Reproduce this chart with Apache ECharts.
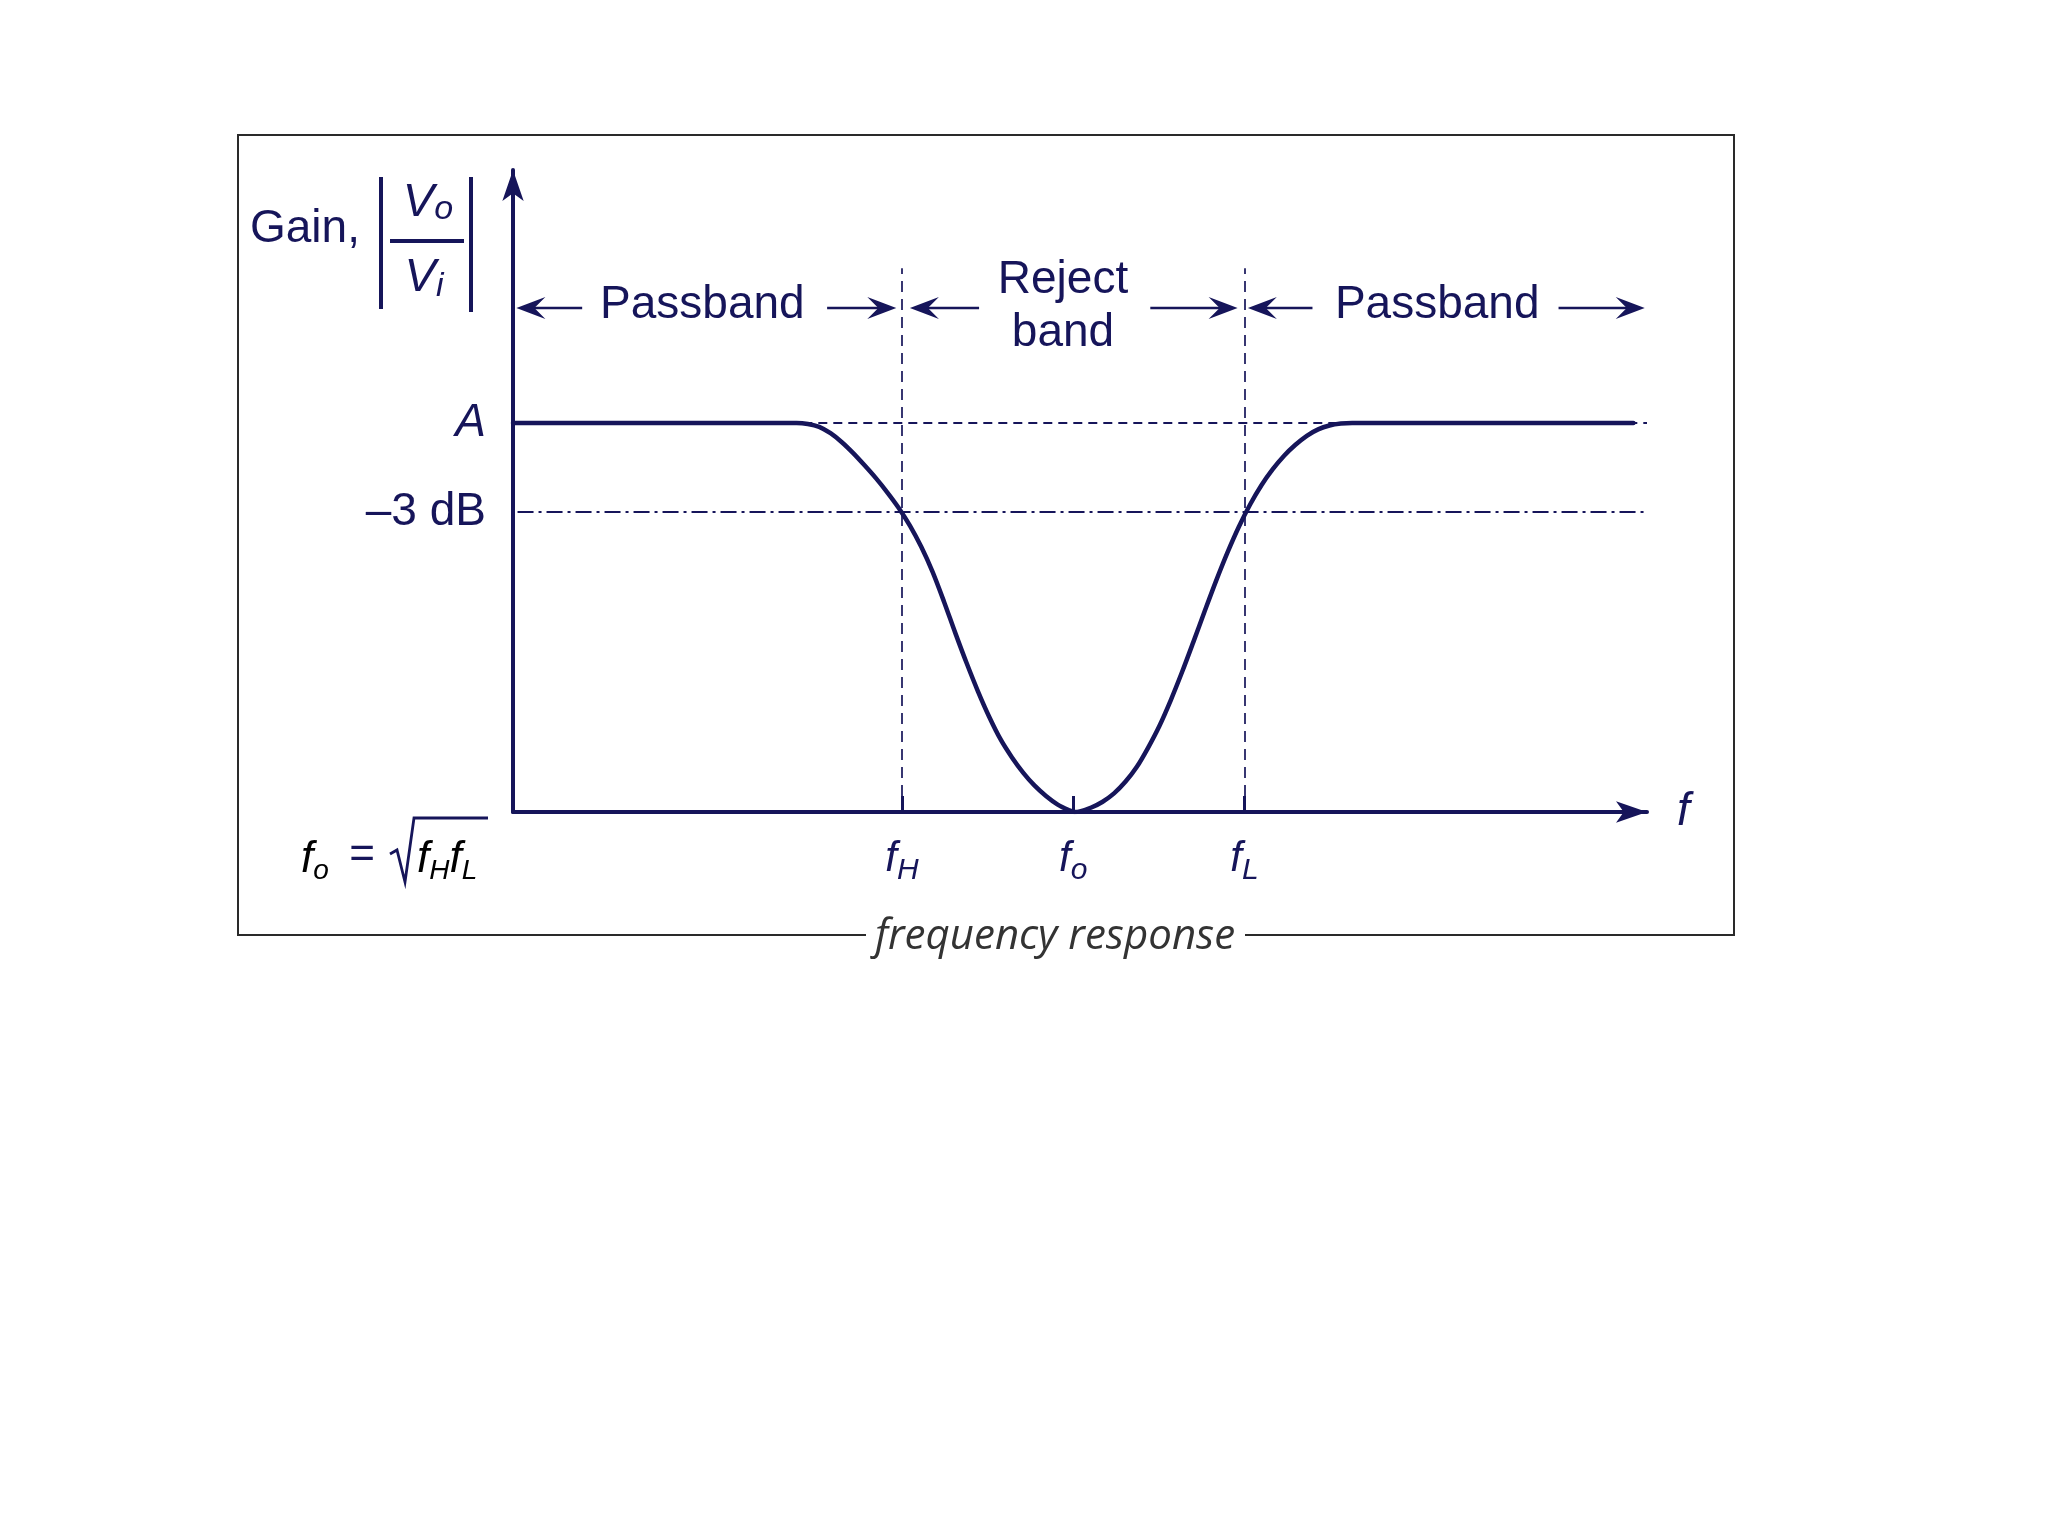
<!DOCTYPE html>
<html><head><meta charset="utf-8">
<script src="https://cdn.jsdelivr.net/npm/echarts@6/dist/echarts.min.js"></script>
<style>html,body{margin:0;padding:0;background:#fff}#c{width:2048px;height:1536px}</style>
</head><body><div id="c"></div>
<script>
// ---------- data ----------
const curveX = [0, 10, 20, 25, 26, 27, 28, 29, 30, 31, 32, 33, 34, 35, 36, 37, 38, 39, 40, 41, 42, 43, 44, 45, 46, 47, 48, 49, 49.5, 50, 51, 52, 53, 54, 55, 56, 57, 58, 59, 60, 61, 62, 63, 64, 65, 66, 67, 68, 69, 70, 71, 72, 73, 74, 80, 90, 98.8];
const curveY = [60.6, 60.6, 60.6, 60.6, 60.45, 60.0, 59.0, 57.6, 55.9, 54.0, 52.0, 49.8, 47.4, 44.6, 41.3, 37.4, 32.8, 27.9, 23.2, 18.8, 14.8, 11.3, 8.5, 6.1, 4.1, 2.5, 1.2, 0.3, 0, 0.1, 0.7, 1.6, 2.9, 4.7, 7.0, 10.0, 13.4, 17.4, 21.8, 26.5, 31.3, 36.0, 40.4, 44.4, 47.9, 50.9, 53.4, 55.5, 57.2, 58.6, 59.6, 60.2, 60.5, 60.6, 60.6, 60.6, 60.6];
const fH = 34.3, fO = 49.4, fL = 64.5;
const gainA = 60.6, gain3dB = 46.7;
const xTickValues = [fH, fO, fL];
const xTickLabels = ['{f|f}{s|H}', '{f|f}{s|o}', '{f|f}{s|L}'];
const yTickValues = [gain3dB, gainA];
const yTickLabels = ['–3 dB', '{a|A}'];
const bandArrowY = 78.5;
const bandArrowFrom = [6.1, 27.7, 41.1, 56.2, 70.5, 92.2];
const bandArrowTo   = [0.3, 33.8, 35.0, 63.9, 64.8, 99.8];
const bandTexts = ['Passband', 'Reject', 'band', 'Passband'];
const bandTextX = [16.7, 48.5, 48.5, 81.5];
const bandTextY = [79.0, 82.8, 74.6, 79.0];
const guideTop = 84.7;

// ---------- style ----------
const NAVY = '#16155a';
const FONT = 'Liberation Sans, Arial, sans-serif';

const chart = echarts.init(document.getElementById('c'), null, {renderer: 'canvas'});

const option = {
  animation: false,
  backgroundColor: '#ffffff',
  grid: {left: 513, right: 401, top: 170, bottom: 724, outerBoundsMode: 'none', containLabel: false},
  xAxis: {
    type: 'value', min: 0, max: 100,
    name: 'f', nameLocation: 'end', nameGap: 30,
    nameTextStyle: {fontFamily: FONT, fontStyle: 'italic', fontSize: 46, color: NAVY, verticalAlign: 'middle', align: 'left'},
    axisLine: {show: true, onZero: false, symbol: ['none', 'arrow'], symbolSize: [16, 31], symbolOffset: [0, 0],
      lineStyle: {color: NAVY, width: 4}},
    axisTick: {show: true, inside: true, length: 16, customValues: xTickValues, lineStyle: {color: NAVY, width: 3}},
    axisLabel: {
      show: true, customValues: xTickValues, margin: 20,
      formatter: v => xTickLabels[xTickValues.indexOf(v)] || '',
      rich: {
        f: {fontFamily: FONT, fontStyle: 'italic', fontSize: 42, color: NAVY},
        s: {fontFamily: FONT, fontStyle: 'italic', fontSize: 30, color: NAVY, padding: [24, 0, 0, 0]}
      }
    },
    splitLine: {show: false}
  },
  yAxis: {
    type: 'value', min: 0, max: 100,
    axisLine: {show: true, onZero: false, symbol: ['none', 'arrow'], symbolSize: [16, 31], symbolOffset: [0, 0],
      lineStyle: {color: NAVY, width: 4}},
    axisTick: {show: false},
    axisLabel: {
      show: true, customValues: yTickValues, margin: 27,
      fontFamily: FONT, fontSize: 46, color: NAVY,
      formatter: v => yTickLabels[yTickValues.indexOf(v)] || '',
      rich: {a: {fontFamily: FONT, fontStyle: 'italic', fontSize: 46, color: NAVY}}
    },
    splitLine: {show: false}
  },
  series: [
    {
      type: 'line', name: 'gain',
      data: curveX.map((x, i) => [x, curveY[i]]),
      smooth: 0.3, symbol: 'none', z: 5,
      lineStyle: {color: NAVY, width: 4.5, join: 'round', cap: 'round'},
      markLine: {
        silent: true, symbol: ['none', 'none'], label: {show: false}, z: 3,
        emphasis: {disabled: true},
        data: [
          [{coord: [25.6, gainA], lineStyle: {type: [9, 6], width: 1.8, color: NAVY}}, {coord: [100, gainA]}],
          [{coord: [0.4, gain3dB], lineStyle: {type: [16, 5, 3, 5], width: 1.9, color: NAVY}}, {coord: [100, gain3dB]}],
          [{coord: [fH, 2.5], lineStyle: {type: [11, 7], width: 1.7, color: NAVY}}, {coord: [fH, guideTop]}],
          [{coord: [fL, 2.5], lineStyle: {type: [11, 7], width: 1.7, color: NAVY}}, {coord: [fL, guideTop]}]
        ]
      }
    },
    {
      type: 'custom', name: 'bandArrows', clip: false, silent: true,
      dimensions: ['from', 'to', 'y'],
      encode: {x: [0, 1], y: 2},
      data: bandArrowFrom.map((f, i) => [f, bandArrowTo[i], bandArrowY]),
      renderItem: function (params, api) {
        const p1 = api.coord([api.value(0), api.value(2)]);
        const p2 = api.coord([api.value(1), api.value(2)]);
        const d = Math.sign(p2[0] - p1[0]);
        const L = 29, W = 11;
        return {type: 'group', children: [
          {type: 'line', shape: {x1: p1[0], y1: p1[1], x2: p2[0] - d * L * 0.6, y2: p2[1]},
            style: {stroke: NAVY, lineWidth: 2.6}},
          {type: 'polygon', shape: {points: [[p2[0], p2[1]], [p2[0] - d * L, p2[1] - W], [p2[0] - d * L * 0.62, p2[1]], [p2[0] - d * L, p2[1] + W]]},
            style: {fill: NAVY}}
        ]};
      }
    },
    {
      type: 'custom', name: 'bandLabels', clip: false, silent: true,
      dimensions: ['x', 'y', 'idx'],
      encode: {x: 0, y: 1},
      data: bandTextX.map((x, i) => [x, bandTextY[i], i]),
      renderItem: function (params, api) {
        const p = api.coord([api.value(0), api.value(1)]);
        return {type: 'text', x: p[0], y: p[1],
          style: {text: bandTexts[api.value(2)], fontFamily: FONT, fontSize: 46, fill: NAVY, align: 'center', verticalAlign: 'middle'}};
      }
    }
  ],
  graphic: [
    // frame with gap for the caption
    {type: 'polyline', silent: true, shape: {points: [[866, 935], [238, 935], [238, 135], [1734, 135], [1734, 935], [1245, 935]]},
      style: {stroke: '#2a2a2a', lineWidth: 2, fill: null}},
    {type: 'text', silent: true, x: 1055, y: 937,
      style: {text: 'frequency response', fontFamily: 'Open Sans, sans-serif', fontStyle: 'italic', fontSize: 42, fill: '#333333', align: 'center', verticalAlign: 'middle'}},
    // y axis title: Gain, |Vo/Vi|
    {type: 'text', silent: true, x: 250, y: 229,
      style: {text: 'Gain,', fontFamily: FONT, fontSize: 46, fill: NAVY, align: 'left', verticalAlign: 'middle'}},
    {type: 'line', silent: true, shape: {x1: 381, y1: 177, x2: 381, y2: 309}, style: {stroke: NAVY, lineWidth: 4}},
    {type: 'line', silent: true, shape: {x1: 471, y1: 177, x2: 471, y2: 312}, style: {stroke: NAVY, lineWidth: 4}},
    {type: 'line', silent: true, shape: {x1: 390, y1: 241, x2: 464, y2: 241}, style: {stroke: NAVY, lineWidth: 4}},
    {type: 'text', silent: true, x: 428, y: 203,
      style: {text: '{v|V}{o|o}', align: 'center', verticalAlign: 'middle',
        rich: {v: {fontFamily: FONT, fontStyle: 'italic', fontSize: 47, fill: NAVY, color: NAVY},
               o: {fontFamily: FONT, fontStyle: 'italic', fontSize: 34, fill: NAVY, color: NAVY, padding: [14, 0, 0, 0]}}}},
    {type: 'text', silent: true, x: 424, y: 278,
      style: {text: '{v|V}{o|i}', align: 'center', verticalAlign: 'middle',
        rich: {v: {fontFamily: FONT, fontStyle: 'italic', fontSize: 47, fill: NAVY, color: NAVY},
               o: {fontFamily: FONT, fontStyle: 'italic', fontSize: 34, fill: NAVY, color: NAVY, padding: [18, 0, 0, 0]}}}},
    // f_o = sqrt(f_H f_L)
    {type: 'text', silent: true, x: 301, y: 860,
      style: {text: '{f|f}{s|o}', align: 'left', verticalAlign: 'middle',
        rich: {f: {fontFamily: FONT, fontStyle: 'italic', fontSize: 44, color: NAVY},
               s: {fontFamily: FONT, fontStyle: 'italic', fontSize: 28, color: NAVY, padding: [22, 0, 0, 0]}}}},
    {type: 'text', silent: true, x: 362, y: 856,
      style: {text: '=', fontFamily: FONT, fontSize: 44, fill: NAVY, align: 'center', verticalAlign: 'middle'}},
    {type: 'polyline', silent: true, shape: {points: [[390, 854], [397, 850], [405, 882], [414, 818], [488, 818]]},
      style: {stroke: NAVY, lineWidth: 2.8, fill: null}},
    {type: 'text', silent: true, x: 417, y: 860,
      style: {text: '{f|f}{s|H}{f|f}{s|L}', align: 'left', verticalAlign: 'middle',
        rich: {f: {fontFamily: FONT, fontStyle: 'italic', fontSize: 44, color: NAVY},
               s: {fontFamily: FONT, fontStyle: 'italic', fontSize: 28, color: NAVY, padding: [22, 0, 0, 0]}}}}
  ]
};
chart.setOption(option);
</script>
</body></html>
